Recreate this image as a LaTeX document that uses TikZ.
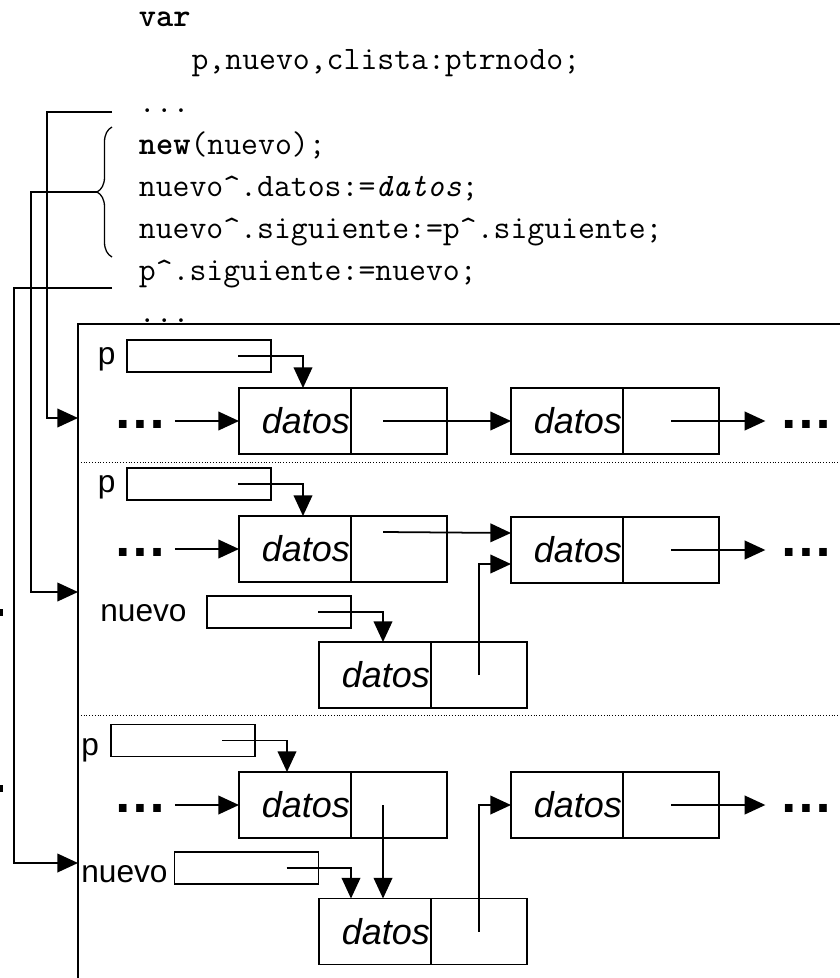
\documentclass[tikz,border=0pt]{standalone}
\usepackage{fontspec}
\setmainfont{Liberation Sans}
\usetikzlibrary{arrows.meta,calc,positioning,decorations.pathreplacing}

\begin{document}
\begin{tikzpicture}[x=0.03cm,y=-0.03cm,line width=1.5pt]
	\tikzstyle{codeline}=[anchor=base west,inner sep=0pt,font=\ttfamily\fontsize{28pt}{33pt}\selectfont]
	\tikzstyle{lbl}=[anchor=base west,inner sep=0pt,font=\fontsize{27pt}{32pt}\selectfont]
	\tikzstyle{ptrbox}=[draw,minimum width=4.32cm,minimum height=0.96cm,inner sep=0pt,outer sep=0pt]
	\tikzstyle{datoscell}=[draw,anchor=west,minimum height=1.98cm,text width=3.29cm,align=right,inner xsep=1pt,inner ysep=0pt,outer sep=0pt,font=\itshape\fontsize{30.7pt}{36pt}\selectfont]
	\tikzstyle{sigcell}=[draw,minimum width=2.88cm,minimum height=1.98cm,inner sep=0pt,outer sep=0pt]
	\tikzstyle{more}=[inner sep=0pt,font=\bfseries\fontsize{46pt}{50pt}\selectfont]
	\tikzstyle{ptr}=[-{Triangle[length=0.62cm,width=0.56cm]}]
	\tikzstyle{sep}=[line width=0.8pt,dash pattern=on 0.8pt off 1.6pt]
	\useasboundingbox (0,0) rectangle (840,978);

	% code
	\node[codeline] (cvar) at (138,26) {\textbf{var}};
	\node[codeline] (cdecl) at (190.7,69) {p,nuevo,clista:ptrnodo;};
	\node[codeline] (cdots1) at (138,112) {...};
	\node[codeline] (cnew) at (138,154) {\textbf{new}(nuevo);};
	\node[codeline] (cdat) at (138,196) {nuevo\textasciicircum.datos:=\textit{datos};};
	\node[codeline] (csig) at (138,238) {nuevo\textasciicircum.siguiente:=p\textasciicircum.siguiente;};
	\node[codeline] (cenl) at (138,280) {p\textasciicircum.siguiente:=nuevo;};
	\node[codeline] (cdots2) at (138,322) {...};

	% frame
	\draw (77,324) -- (840,324);
	\draw (78,324) -- (78,978);
	\draw[sep] (78,462.5) -- (840,462.5);
	\draw[sep] (78,715.5) -- (840,715.5);
	\fill (0,609) rectangle (3,616);
	\fill (0,785) rectangle (3,792);

	\coordinate (f1) at (78,418);
	\coordinate (f2) at (78,592);
	\coordinate (f3) at (78,863);
	\coordinate (k1) at (112,112);
	\coordinate (k2) at (97,192);
	\coordinate (k3) at (112,288);

	\draw[line width=1.1pt,decorate,decoration={brace,amplitude=0.45cm}] (112,257) -- (112,127);
	\draw[ptr] (k1) -| (47,418) -- (f1);
	\draw[ptr] (k2) -| (31,592) -- (f2);
	\draw[ptr] (k3) -| (14,863) -- (f3);

	% first state
	\node[lbl] (lp1) at (97,364) {p};
	\node[ptrbox] (p1) at (199,356) {};
	\node[datoscell] (a1) at (239,421) {datos};
	\node[sigcell,right=0pt of a1] (a1s) {};
	\node[datoscell] (b1) at (511,421) {datos};
	\node[sigcell,right=0pt of b1] (b1s) {};
	\node[more] (e1l) at (140,424.5) {…};
	\node[more] (e1r) at (806.5,424.5) {…};

	\draw[ptr] ($(p1.east)+(-33,0)$) -| ($(a1.north west)+(64,0)$);
	\draw[ptr,shorten <=0.21cm] (e1l.east |- a1.west) -- (a1.west);
	\draw[ptr] ($(a1s.west)+(32,0)$) -- (b1.west);
	\draw[ptr,shorten >=0.4cm] (b1s.center) -- (e1r.west |- b1s.center);

	% second state
	\node[lbl] (lp2) at (97,492) {p};
	\node[ptrbox] (p2) at (199,484) {};
	\node[datoscell] (a2) at (239,549) {datos};
	\node[sigcell,right=0pt of a2] (a2s) {};
	\node[datoscell] (b2) at (511,550) {datos};
	\node[sigcell,right=0pt of b2] (b2s) {};
	\node[more] (e2l) at (140,552) {…};
	\node[more] (e2r) at (806.5,552) {…};
	\node[lbl] (lnv2) at (99.5,621) {nuevo};
	\node[ptrbox] (nv2) at (279,612) {};
	\node[datoscell] (c2) at (319,675) {datos};
	\node[sigcell,right=0pt of c2] (c2s) {};

	\draw[ptr] ($(p2.east)+(-33,0)$) -| ($(a2.north west)+(64,0)$);
	\draw[ptr,shorten <=0.21cm] (e2l.east |- a2.west) -- (a2.west);
	\draw[ptr] ($(a2s.west)+(32,-17)$) -- ($(b2.west)+(0,-17)$);
	\draw[ptr,shorten >=0.4cm] (b2s.center) -- (e2r.west |- b2s.center);
	\draw[ptr] ($(nv2.east)+(-33,0)$) -| ($(c2.north west)+(64,0)$);
	\draw[ptr] (c2s.center) |- ($(b2.west)+(0,14)$);

	% third state
	\node[lbl] (lp3) at (80.5,755) {p};
	\node[ptrbox] (p3) at (183,740.5) {};
	\node[datoscell] (a3) at (239,805) {datos};
	\node[sigcell,right=0pt of a3] (a3s) {};
	\node[datoscell] (b3) at (511,805) {datos};
	\node[sigcell,right=0pt of b3] (b3s) {};
	\node[more] (e3l) at (140,808.5) {…};
	\node[more] (e3r) at (806.5,808.5) {…};
	\node[lbl] (lnv3) at (80.5,882.5) {nuevo};
	\node[ptrbox] (nv3) at (246.5,868) {};
	\node[datoscell] (c3) at (319,931.5) {datos};
	\node[sigcell,right=0pt of c3] (c3s) {};
	\coordinate (a3o) at ($(a3s.west)+(32,0)$);

	\draw[ptr] ($(p3.east)+(-33,0)$) -| ($(a3.north west)+(48,0)$);
	\draw[ptr,shorten <=0.21cm] (e3l.east |- a3.west) -- (a3.west);
	\draw[ptr] (a3o) -- (a3o |- c3.north);
	\draw[ptr,shorten >=0.4cm] (b3s.center) -- (e3r.west |- b3s.center);
	\draw[ptr] ($(nv3.east)+(-32,0)$) -| ($(c3.north west)+(32,0)$);
	\draw[ptr] (c3s.center) |- (b3.west);
\end{tikzpicture}
\end{document}
